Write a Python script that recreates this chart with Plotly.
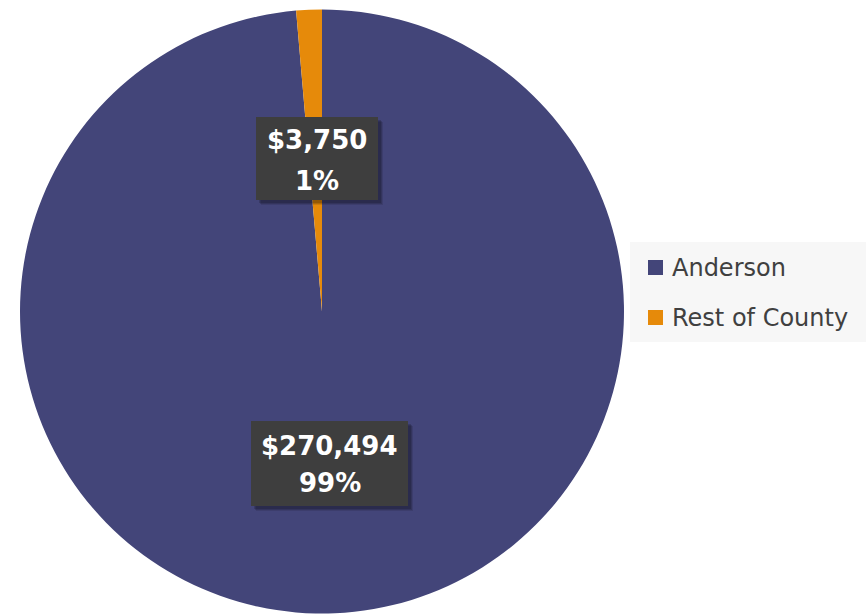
import plotly.graph_objects as go

labels = ["Anderson", "Rest of County"]
values = [270494, 3750]
colors = ["#434579", "#E68A0A"]

W, H = 866, 616
total = sum(values)


def px(x):
    return x / W


def py(y):
    return 1 - y / H


fig = go.Figure()
fig.add_trace(go.Pie(
    labels=labels,
    values=values,
    sort=False,
    direction="clockwise",
    rotation=0,
    textinfo="none",
    hoverinfo="label+value+percent",
    marker=dict(colors=colors, line=dict(width=0)),
    domain=dict(x=[px(20), px(624)], y=[py(614), py(9)]),
    showlegend=False,
))

# data label boxes: (left, top, right, bottom, line1 center y, line2 center y)
boxes = {
    "Anderson": (251, 421, 408, 506, 446, 483),
    "Rest of County": (256, 117, 378, 200, 140, 181),
}
shapes = []
annotations = []
for lab, val in zip(labels, values):
    pct = round(val / total * 100)
    x0, y0, x1, y1, l1, l2 = boxes[lab]
    # soft shadow
    for off, a in ((5, 0.10), (4, 0.14), (3, 0.16)):
        shapes.append(dict(type="rect", xref="paper", yref="paper",
                           x0=px(x0 + off), x1=px(x1 + off), y0=py(y1 + off), y1=py(y0 + off),
                           fillcolor=f"rgba(0,0,0,{a})", line=dict(width=0), layer="above"))
    shapes.append(dict(type="rect", xref="paper", yref="paper",
                       x0=px(x0), x1=px(x1), y0=py(y1), y1=py(y0),
                       fillcolor="#3E3E3E", line=dict(width=0), layer="above"))
    cx = (x0 + x1) / 2
    for txt, ly in ((f"${val:,}", l1), (f"{pct}%", l2)):
        annotations.append(dict(
            x=px(cx), y=py(ly), xref="paper", yref="paper",
            text=f"<b>{txt}</b>", showarrow=False,
            xanchor="center", yanchor="middle",
            font=dict(family="DejaVu Sans", size=26, color="white"),
        ))

# legend (manual, to match spacing)
shapes.append(dict(type="rect", xref="paper", yref="paper",
                   x0=px(630), x1=px(866), y0=py(342), y1=py(242),
                   fillcolor="#F7F7F7", line=dict(width=0), layer="below"))
leg_y = [267.5, 317.5]
for lab, col, ly in zip(labels, colors, leg_y):
    shapes.append(dict(type="rect", xref="paper", yref="paper",
                       x0=px(648), x1=px(663), y0=py(ly + 7.5), y1=py(ly - 7.5),
                       fillcolor=col, line=dict(width=0)))
    annotations.append(dict(
        x=px(670), y=py(ly), xref="paper", yref="paper",
        text=lab, showarrow=False, xanchor="left", yanchor="middle",
        font=dict(family="DejaVu Sans", size=24, color="#404040"),
    ))

fig.update_layout(
    width=W, height=H,
    margin=dict(l=0, r=0, t=0, b=0),
    paper_bgcolor="white",
    plot_bgcolor="white",
    showlegend=False,
    shapes=shapes,
    annotations=annotations,
)

fig.write_html("out.html", config={"displayModeBar": False},
               post_script="document.body.style.margin='0';document.body.style.overflow='hidden';")
